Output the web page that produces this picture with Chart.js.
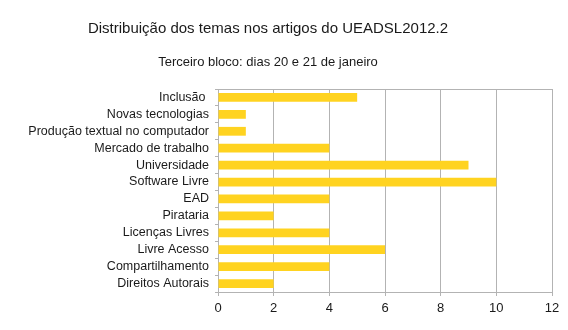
<!DOCTYPE html>
<html>
<head>
<meta charset="utf-8">
<script src="https://cdn.jsdelivr.net/npm/chart.js@4/dist/chart.umd.min.js"></script>
<style>
  html, body { margin: 0; padding: 0; background: #fff; }
  #wrap { width: 568px; height: 330px; }
</style>
</head>
<body>
<div id="wrap"><canvas id="c" width="568" height="330"></canvas></div>
<script>
// Topics and the number of articles on each
const temas = [
  'Inclusão ',
  'Novas tecnologias',
  'Produção textual no computador',
  'Mercado de trabalho',
  'Universidade',
  'Software Livre',
  'EAD',
  'Pirataria',
  'Licenças Livres',
  'Livre Acesso',
  'Compartilhamento',
  'Direitos Autorais'
];
const artigos = [5, 1, 1, 4, 9, 10, 4, 2, 4, 6, 4, 2];
const escalaX = { min: 0, max: 12, passo: 2 };

const titulo = 'Distribuição dos temas nos artigos do UEADSL2012.2';
const subtitulo = 'Terceiro bloco: dias 20 e 21 de janeiro';

const GRID = '#b3b3b3';
const TEXT = '#1a1a1a';
const FONT = '"Liberation Sans", Arial, sans-serif';

// Heading lines, centred on the page, plus a frame line on top of the plot
const cabecalho = {
  id: 'cabecalho',
  afterDraw(chart) {
    const { ctx, chartArea: a, width } = chart;
    ctx.save();
    ctx.fillStyle = TEXT;
    ctx.textAlign = 'center';
    ctx.textBaseline = 'middle';
    ctx.font = '15px ' + FONT;
    ctx.fillText(titulo, 268, 29);
    ctx.font = '13px ' + FONT;
    ctx.fillText(subtitulo, 268, 62.5);

    ctx.strokeStyle = GRID;
    ctx.lineWidth = 1;
    ctx.beginPath();
    ctx.moveTo(a.left, Math.round(a.top) + 0.5);
    ctx.lineTo(a.right, Math.round(a.top) + 0.5);
    ctx.stroke();
    ctx.restore();
  }
};

new Chart(document.getElementById('c'), {
  type: 'bar',
  data: {
    labels: temas,
    datasets: [{
      data: artigos,
      backgroundColor: '#ffd320',
      borderWidth: 0,
      barPercentage: 0.52,
      categoryPercentage: 1.0
    }]
  },
  plugins: [cabecalho],
  options: {
    indexAxis: 'y',
    responsive: false,
    animation: false,
    layout: { padding: { left: 0, right: 16, top: 89, bottom: 0 } },
    plugins: {
      legend: { display: false },
      tooltip: { enabled: false },
      title: { display: false },
      subtitle: { display: false }
    },
    scales: {
      x: {
        min: escalaX.min,
        max: escalaX.max,
        ticks: {
          stepSize: escalaX.passo,
          color: TEXT,
          font: { family: FONT, size: 13 },
          padding: 5
        },
        grid: { color: GRID, tickLength: 4, tickColor: GRID },
        border: { color: GRID },
        afterFit(scale) { scale.height = 38; }
      },
      y: {
        offset: true,
        ticks: {
          color: TEXT,
          font: { family: FONT, size: 12.5 },
          padding: 6,
          autoSkip: false
        },
        grid: {
          offset: true,
          drawOnChartArea: false,
          drawTicks: true,
          tickLength: 3,
          tickColor: GRID,
          color: GRID
        },
        border: { color: GRID },
        afterFit(scale) { scale.width = 218; }
      }
    }
  }
});
</script>
</body>
</html>
